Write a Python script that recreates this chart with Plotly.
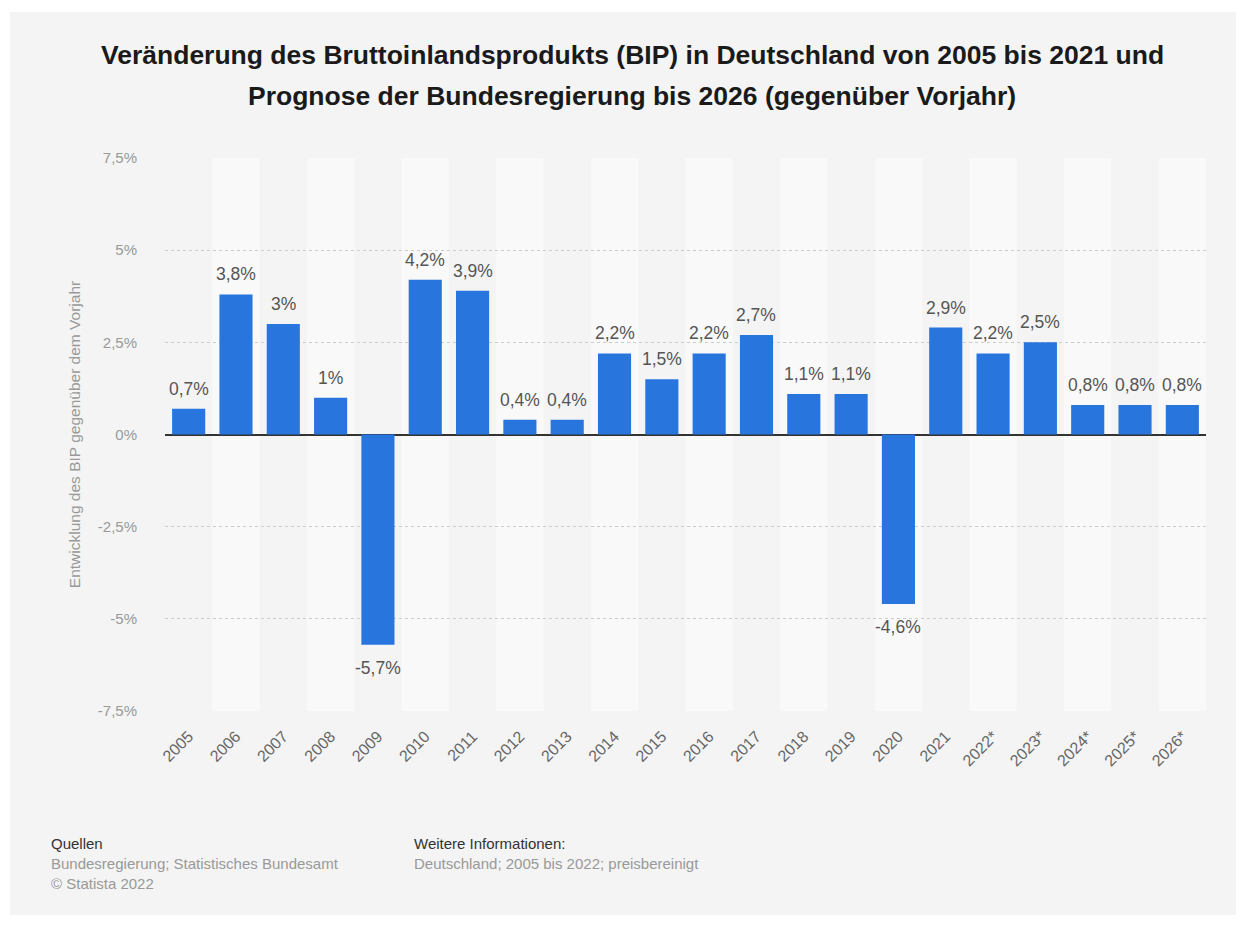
import plotly.graph_objects as go

years = ["2005", "2006", "2007", "2008", "2009", "2010", "2011", "2012", "2013", "2014", "2015",
         "2016", "2017", "2018", "2019", "2020", "2021", "2022*", "2023*", "2024*", "2025*", "2026*"]
values = [0.7, 3.8, 3.0, 1.0, -5.7, 4.2, 3.9, 0.4, 0.4, 2.2, 1.5,
          2.2, 2.7, 1.1, 1.1, -4.6, 2.9, 2.2, 2.5, 0.8, 0.8, 0.8]
ytick_vals = [-7.5, -5, -2.5, 0, 2.5, 5, 7.5]
ytick_text = ["-7,5%", "-5%", "-2,5%", "0%", "2,5%", "5%", "7,5%"]
title_lines = ["Veränderung des Bruttoinlandsprodukts (BIP) in Deutschland von 2005 bis 2021 und",
               "Prognose der Bundesregierung bis 2026 (gegenüber Vorjahr)"]


def fmt(v):
    s = ("%.1f" % v).replace(".", ",")
    if s.endswith(",0"):
        s = s[:-2]
    return s + "%"


labels = [fmt(v) for v in values]

FONT = "Liberation Sans"
W, H = 1246, 928
L, R, T, B = 165, 40, 158, 217
pw, ph = W - L - R, H - T - B


def px(x):
    return (x - L) / pw


def py(y):
    return (H - B - y) / ph


fig = go.Figure()
fig.add_trace(go.Bar(
    x=years, y=values, marker_color="#2876dd", marker_line_width=0,
    hoverinfo="skip",
))

for i, (v, lab) in enumerate(zip(values, labels)):
    fig.add_annotation(x=i, y=v, xref="x", yref="y", text=lab, showarrow=False,
                       yanchor="middle", yshift=20 if v >= 0 else -23,
                       font=dict(family=FONT, size=17.5, color="#555555"))

shapes = []
shapes.append(dict(type="rect", xref="paper", yref="paper",
                   x0=px(10), x1=px(1236), y0=py(915), y1=py(12),
                   fillcolor="#f4f4f4", line_width=0, layer="below"))
for i in range(len(years)):
    if i % 2 == 1:
        shapes.append(dict(type="rect", xref="x", yref="paper",
                           x0=i - 0.5, x1=i + 0.5, y0=0, y1=1,
                           fillcolor="#f9f9f9", line_width=0, layer="below"))

fig.update_layout(
    width=W, height=H,
    margin=dict(l=L, r=R, t=T, b=B),
    paper_bgcolor="white", plot_bgcolor="rgba(0,0,0,0)",
    shapes=shapes,
    bargap=0.3,
    showlegend=False,
    xaxis=dict(
        type="category", range=[-0.5, len(years) - 0.5],
        showgrid=False, zeroline=False, showline=False,
        tickangle=-45, ticks="", ticklabelstandoff=12,
        tickfont=dict(family=FONT, size=16, color="#666666"),
    ),
    yaxis=dict(
        range=[-7.5, 7.5], tickvals=ytick_vals, ticktext=ytick_text,
        showgrid=True, gridcolor="#cccccc", griddash="dot", gridwidth=1,
        zeroline=True, zerolinecolor="#333333", zerolinewidth=2,
        showline=False, ticks="", ticklabelstandoff=27,
        tickfont=dict(family=FONT, size=15, color="#999999"),
        title=dict(text="Entwicklung des BIP gegenüber dem Vorjahr", standoff=13,
                   font=dict(family=FONT, size=15.5, color="#999999")),
    ),
)

for t, y in zip(title_lines, [55, 96]):
    fig.add_annotation(xref="paper", yref="paper", x=px(632), y=py(y),
                       xanchor="center", yanchor="middle", showarrow=False, text=t,
                       font=dict(family=FONT, size=26.5, color="#1a1a1a", weight="bold"))

footer = [
    (49, 843, "Quellen", "#333333"),
    (49, 864, "Bundesregierung; Statistisches Bundesamt", "#999999"),
    (49, 883, "© Statista 2022", "#999999"),
    (412, 843, "Weitere Informationen:", "#333333"),
    (412, 864, "Deutschland; 2005 bis 2022; preisbereinigt", "#999999"),
]
for x, y, t, c in footer:
    fig.add_annotation(xref="paper", yref="paper", x=px(x), y=py(y),
                       xanchor="left", yanchor="middle", showarrow=False,
                       text=t, font=dict(family=FONT, size=15, color=c))

fig.write_html("out.html")
